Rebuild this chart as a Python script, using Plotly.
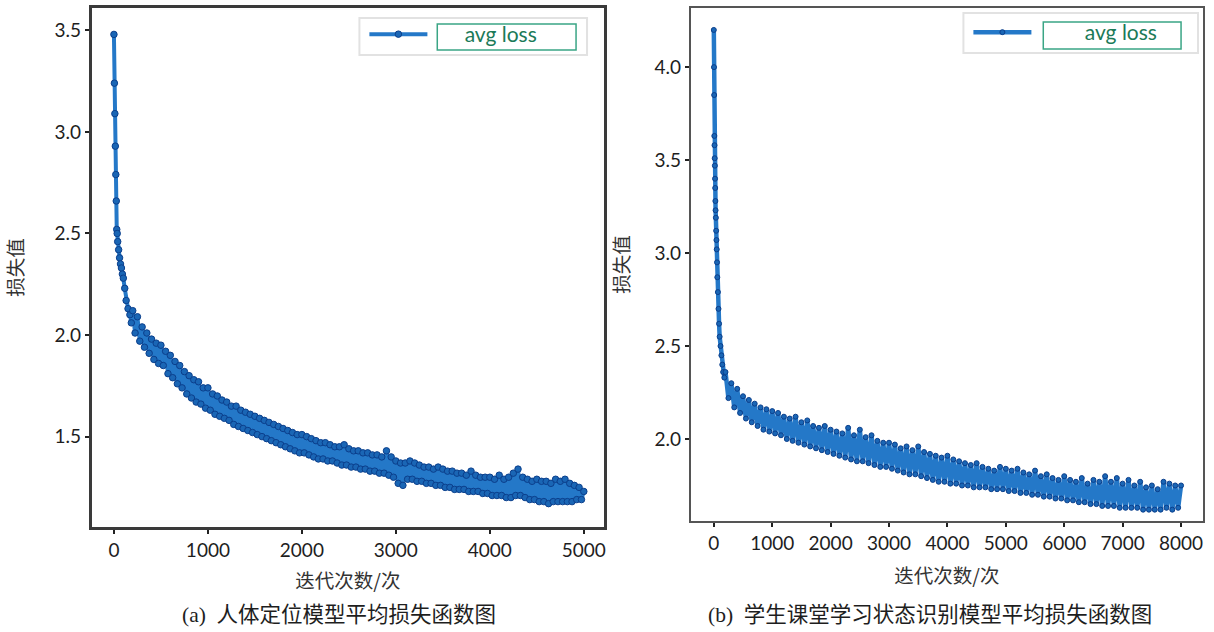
import plotly.graph_objects as go

# ---------------- data ----------------
iters_a = [0, 5, 10, 15, 20, 25, 30, 35, 40, 50, 60, 70, 80, 90, 100, 115, 130, 150, 170, 185] + list(range(200, 5001, 25))
loss_a = [3.48, 3.24, 3.09, 2.93, 2.79, 2.66, 2.52, 2.50, 2.46, 2.42, 2.38, 2.35, 2.33, 2.30, 2.28, 2.23, 2.17, 2.13, 2.10, 2.06,
          2.12, 2.01, 2.09, 1.97, 2.04, 1.94, 2.01, 1.91, 1.98, 1.88, 1.96, 1.86, 1.95, 1.85, 1.92, 1.81,
          1.90, 1.79, 1.87, 1.76, 1.85, 1.74, 1.82, 1.71, 1.80, 1.69, 1.78, 1.67, 1.77, 1.66, 1.74, 1.64,
          1.74, 1.63, 1.71, 1.61, 1.70, 1.60, 1.68, 1.59, 1.67, 1.58, 1.65, 1.56, 1.65, 1.55, 1.63, 1.54,
          1.62, 1.53, 1.61, 1.52, 1.60, 1.51, 1.59, 1.50, 1.58, 1.49, 1.57, 1.48, 1.56, 1.47, 1.55, 1.46,
          1.54, 1.45, 1.53, 1.44, 1.52, 1.43, 1.51, 1.42, 1.51, 1.42, 1.50, 1.41, 1.49, 1.40, 1.48, 1.39,
          1.47, 1.39, 1.47, 1.38, 1.46, 1.38, 1.45, 1.37, 1.45, 1.36, 1.46, 1.36, 1.44, 1.35, 1.43, 1.35,
          1.43, 1.34, 1.42, 1.34, 1.42, 1.33, 1.41, 1.33, 1.41, 1.32, 1.40, 1.32, 1.43, 1.31, 1.40, 1.30,
          1.38, 1.27, 1.37, 1.26, 1.37, 1.29, 1.38, 1.29, 1.37, 1.28, 1.36, 1.28, 1.35, 1.27, 1.35, 1.27,
          1.34, 1.26, 1.35, 1.26, 1.34, 1.25, 1.33, 1.25, 1.33, 1.24, 1.32, 1.24, 1.32, 1.24, 1.31, 1.23,
          1.33, 1.23, 1.31, 1.23, 1.30, 1.22, 1.30, 1.22, 1.30, 1.21, 1.29, 1.21, 1.31, 1.21, 1.29, 1.20,
          1.30, 1.20, 1.32, 1.21, 1.34, 1.21, 1.30, 1.20, 1.29, 1.19, 1.28, 1.19, 1.29, 1.18, 1.28, 1.18,
          1.28, 1.17, 1.27, 1.18, 1.29, 1.18, 1.28, 1.18, 1.29, 1.18, 1.27, 1.18, 1.26, 1.19, 1.25, 1.19,
          1.23]

iters_b = [0, 3, 6, 9, 12, 15, 18, 21, 24, 27, 30, 35, 40, 45, 50, 55, 60, 70, 80, 90, 100, 115, 130, 145, 160, 180] + list(range(200, 8001, 50))
loss_b = [4.20, 4.00, 3.85, 3.63, 3.58, 3.51, 3.47, 3.40, 3.35, 3.28, 3.23, 3.19, 3.12, 3.07, 3.02, 2.95, 2.87, 2.79, 2.70, 2.62, 2.55, 2.50, 2.45, 2.40, 2.36, 2.33,
          2.36, 2.22, 2.30, 2.17, 2.27, 2.14, 2.23, 2.11, 2.21, 2.09, 2.19, 2.07, 2.17, 2.05, 2.16, 2.04,
          2.15, 2.03, 2.14, 2.02, 2.12, 2.00, 2.11, 1.99, 2.12, 1.98, 2.09, 1.97, 2.10, 1.96,
          2.07, 1.95, 2.06, 1.94, 2.07, 1.93, 2.05, 1.92, 2.04, 1.91, 2.03, 1.90, 2.06, 1.89,
          2.02, 1.88, 2.05, 1.88, 2.01, 1.87, 2.02, 1.86, 1.99, 1.85, 1.98, 1.85, 1.98, 1.84,
          1.97, 1.83, 1.95, 1.82, 1.96, 1.81, 1.94, 1.81, 1.96, 1.80, 1.93, 1.79, 1.92, 1.78,
          1.91, 1.77, 1.90, 1.77, 1.91, 1.76, 1.89, 1.76, 1.88, 1.75, 1.87, 1.75, 1.86, 1.74,
          1.87, 1.74, 1.85, 1.74, 1.84, 1.73, 1.83, 1.73, 1.85, 1.73, 1.84, 1.72, 1.83, 1.72,
          1.84, 1.71, 1.82, 1.71, 1.81, 1.70, 1.83, 1.70, 1.80, 1.69, 1.81, 1.69, 1.79, 1.68,
          1.78, 1.68, 1.80, 1.67, 1.78, 1.67, 1.77, 1.66, 1.79, 1.66, 1.76, 1.65, 1.78, 1.65,
          1.77, 1.64, 1.80, 1.64, 1.77, 1.64, 1.79, 1.63, 1.76, 1.63, 1.78, 1.63, 1.75, 1.63,
          1.77, 1.62, 1.74, 1.62, 1.75, 1.62, 1.73, 1.62, 1.77, 1.63, 1.76, 1.62, 1.75, 1.63, 1.75]

xticks_a = [0, 1000, 2000, 3000, 4000, 5000]
yticks_a = [1.5, 2.0, 2.5, 3.0, 3.5]
xticks_b = [0, 1000, 2000, 3000, 4000, 5000, 6000, 7000, 8000]
yticks_b = [2.0, 2.5, 3.0, 3.5, 4.0]

series_name = "avg loss"
x_title = "迭代次数/次"
y_title = "损失值"
caption_a = "(a)  人体定位模型平均损失函数图"
caption_b = "(b)  学生课堂学习状态识别模型平均损失函数图"

# ---------------- styles ----------------
W, H = 1214, 632
LINE_C = "#2478c8"
MARK_C = "#1a66b5"
MARK_EDGE = "#0b3f8c"
TICK_FONT = dict(family="Lato, Open Sans, sans-serif", size=19, color="#1e1e1e")
CJK_FONT = dict(family="Noto Sans CJK SC", size=19.5, color="#333333")
CAP_FONT = dict(family="Liberation Serif, Noto Sans CJK SC", size=21.5, color="#1e1e1e")
LEG_FONT = dict(family="Lato, Open Sans, sans-serif", size=21, color="#1b7a58")
PAD_A = "\u00a0" * 6
PAD_B = "\u00a0" * 9

def px(x):
    return x / W

def py(y):
    return 1 - y / H

fig = go.Figure()
fig.add_trace(go.Scatter(
    x=iters_a, y=loss_a, mode="lines+markers", name=PAD_A + series_name,
    line=dict(color=LINE_C, width=4),
    marker=dict(size=6.5, color=MARK_C, line=dict(color=MARK_EDGE, width=1)),
    xaxis="x", yaxis="y", legend="legend"))
fig.add_trace(go.Scatter(
    x=iters_b, y=loss_b, mode="lines+markers", name=PAD_B + series_name,
    line=dict(color=LINE_C, width=4.5),
    marker=dict(size=5, color=MARK_C, line=dict(color=MARK_EDGE, width=1)),
    xaxis="x2", yaxis="y2", legend="legend2"))

axis_common = dict(showgrid=False, zeroline=False, showline=True, mirror=True,
                   ticks="outside", ticklen=4, tickwidth=1.5, tickcolor="#222",
                   tickfont=TICK_FONT)

fig.update_layout(
    width=W, height=H, margin=dict(l=0, r=0, t=0, b=0),
    paper_bgcolor="white", plot_bgcolor="white",
    xaxis=dict(domain=[px(92), px(605)], range=[-235, 5215], anchor="y",
               tickvals=xticks_a, linecolor="#3a3a3a", linewidth=3,
               title=dict(text=x_title, font=CJK_FONT, standoff=15), **axis_common),
    yaxis=dict(domain=[py(527), py(8)], range=[1.055, 3.61], anchor="x",
               tickvals=yticks_a, tickformat=".1f", linecolor="#3a3a3a", linewidth=3,
               title=dict(text=y_title, font=CJK_FONT, standoff=26), **axis_common),
    xaxis2=dict(domain=[px(692), px(1205)], range=[-393, 8376], anchor="y2",
                tickvals=xticks_b, linecolor="#555555", linewidth=2,
                title=dict(text=x_title, font=CJK_FONT, standoff=17), **axis_common),
    yaxis2=dict(domain=[py(521), py(8)], range=[1.559, 4.318], anchor="x2",
                tickvals=yticks_b, tickformat=".1f", linecolor="#555555", linewidth=2,
                title=dict(text=y_title, font=CJK_FONT, standoff=20), **axis_common),
    legend=dict(x=px(365), y=py(14), xanchor="left", yanchor="top",
                orientation="h", itemwidth=58,
                bgcolor="rgba(0,0,0,0)", borderwidth=0, font=LEG_FONT),
    legend2=dict(x=px(970), y=py(12), xanchor="left", yanchor="top",
                 orientation="h", itemwidth=58,
                 bgcolor="rgba(0,0,0,0)", borderwidth=0, font=LEG_FONT),
    showlegend=True,
)

# legend frames (light grey) and green frames around the labels
fig.add_shape(type="rect", xref="paper", yref="paper",
              x0=px(360), x1=px(588), y0=py(55), y1=py(18),
              line=dict(color="#e2e2e2", width=2), fillcolor="white", layer="above")
fig.add_shape(type="rect", xref="paper", yref="paper",
              x0=px(965), x1=px(1200), y0=py(53), y1=py(13),
              line=dict(color="#e2e2e2", width=2), fillcolor="white", layer="above")
fig.add_shape(type="rect", xref="paper", yref="paper",
              x0=px(438), x1=px(577), y0=py(50), y1=py(24),
              line=dict(color="#3aa585", width=1.5), fillcolor="rgba(0,0,0,0)", layer="above")
fig.add_shape(type="rect", xref="paper", yref="paper",
              x0=px(1045), x1=px(1183), y0=py(49), y1=py(22),
              line=dict(color="#3aa585", width=1.5), fillcolor="rgba(0,0,0,0)", layer="above")

# captions
fig.add_annotation(text=caption_a, xref="paper", yref="paper", x=px(340), y=py(615),
                   showarrow=False, font=CAP_FONT, xanchor="center", yanchor="middle")
fig.add_annotation(text=caption_b, xref="paper", yref="paper", x=px(932), y=py(615),
                   showarrow=False, font=CAP_FONT, xanchor="center", yanchor="middle")

fig.write_html("out.html", config={"displayModeBar": False},
               post_script="document.body.style.margin='0';")
